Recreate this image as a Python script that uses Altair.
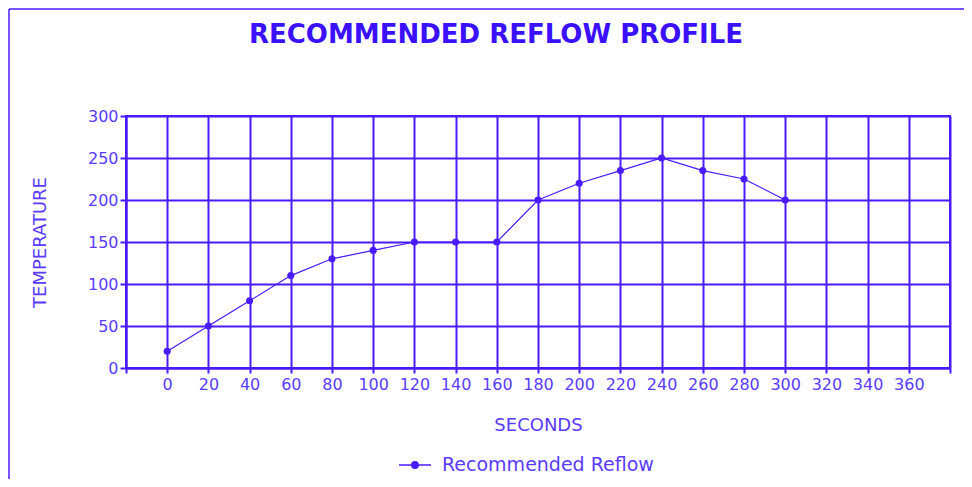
import altair as alt
import pandas as pd

# Data
seconds = [0, 20, 40, 60, 80, 100, 120, 140, 160, 180, 200, 220, 240, 260, 280, 300]
temperature = [20, 50, 80, 110, 130, 140, 150, 150, 150, 200, 220, 235, 250, 235, 225, 200]
series_name = "Recommended Reflow"
x_ticks = list(range(-20, 381, 20))
y_ticks = [0, 50, 100, 150, 200, 250, 300]

BLUE = "#4A1BFF"
TEXT = "#5A3BFF"
FONT = "DejaVu Sans"

df = pd.DataFrame({
    "Seconds": seconds,
    "Temperature": temperature,
    "Series": [series_name] * len(seconds),
})

x_enc = alt.X(
    "Seconds:Q",
    scale=alt.Scale(domain=[-20, 380], nice=False, zero=False),
    axis=alt.Axis(
        values=x_ticks,
        labelExpr="(datum.value < 0 || datum.value > 360) ? '' : datum.label",
        title="SECONDS",
        titleY=57,
        titleBaseline="middle",
        tickSize=5,
        labelPadding=3,
    ),
)
y_enc = alt.Y(
    "Temperature:Q",
    scale=alt.Scale(domain=[0, 300], nice=False),
    axis=alt.Axis(
        values=y_ticks,
        title="TEMPERATURE",
        titleX=-86,
        titleY=126,
        titleAngle=270,
        titleBaseline="middle",
        titleAlign="center",
        tickSize=6,
        labelPadding=2,
    ),
)
color_enc = alt.Color(
    "Series:N",
    scale=alt.Scale(range=[BLUE]),
    legend=alt.Legend(
        title=None,
        orient="none",
        legendX=272,
        legendY=332,
        symbolType="M-1,0H1M-0.2,0A0.2,0.2 0 1,0 0.2,0A0.2,0.2 0 1,0 -0.2,0",
        symbolSize=1024,
        symbolStrokeWidth=1.5,
        symbolFillColor=BLUE,
        symbolStrokeColor=BLUE,
        labelFont=FONT,
        labelFontSize=19,
        labelColor=TEXT,
        labelOffset=10,
        labelLimit=400,
    ),
)

base = alt.Chart(df)
line = base.mark_line(strokeWidth=1.2).encode(x=x_enc, y=y_enc, color=color_enc)
points = base.mark_point(filled=True, size=50, opacity=1).encode(x=x_enc, y=y_enc, color=color_enc)

frame_df = pd.DataFrame({"k": [0]})
frame_left = alt.Chart(frame_df).mark_rule(color=BLUE, strokeWidth=1.5).encode(
    x=alt.value(-117), y=alt.value(-107), y2=alt.value(370)
)
frame_top = alt.Chart(frame_df).mark_rule(color=BLUE, strokeWidth=1.5).encode(
    x=alt.value(-117), x2=alt.value(845), y=alt.value(-107)
)

chart = alt.layer(frame_left, frame_top, line, points).properties(
    width=824,
    height=252,
    autosize="none",
    background="white",
    padding={"left": 118, "top": 108, "right": 14, "bottom": 111},
    title=alt.TitleParams(
        "RECOMMENDED REFLOW PROFILE",
        font=FONT,
        fontSize=26,
        fontWeight="bold",
        color="#3A10FF",
        anchor="middle",
        dx=-42,
        offset=-40,
    ),
).configure_view(
    stroke=BLUE, strokeWidth=2
).configure_axis(
    grid=True,
    gridColor=BLUE,
    gridWidth=2,
    gridOpacity=1,
    domainColor=BLUE,
    domainWidth=2,
    tickColor=BLUE,
    tickWidth=2,
    labelFont=FONT,
    labelFontSize=16,
    labelColor=TEXT,
    titleFont=FONT,
    titleFontSize=18,
    titleFontWeight="normal",
    titleColor=TEXT,
)

chart.save("out.html", embed_options={"renderer": "svg", "actions": False})
